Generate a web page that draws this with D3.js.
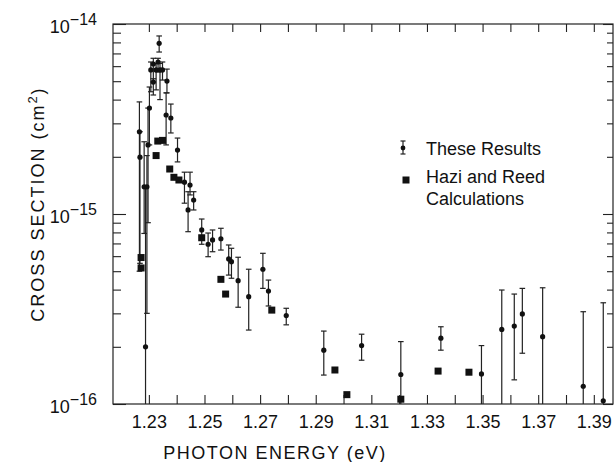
<!DOCTYPE html>
<html><head><meta charset="utf-8">
<script src="https://cdn.jsdelivr.net/npm/d3@7"></script>
<style>
body{margin:0;background:#fff}
text{font-family:"Liberation Sans",Arial,Helvetica,sans-serif;fill:#111}
</style>
</head><body>
<svg id="chart" width="615" height="462"></svg>
<script>
// ---- data (cross section in cm^2, photon energy in eV) ----
const resultEnergy = [1.2266,1.2268,1.2283,1.2288,1.2293,1.2297,1.2302,1.2307,1.2316,1.2316,1.2326,1.2333,1.2337,1.2340,1.2349,1.2365,1.2362,1.2379,1.2403,1.2428,1.2441,1.2448,1.2461,1.2490,1.2513,1.2529,1.2559,1.2587,1.2597,1.2621,1.2659,1.2710,1.2730,1.2794,1.2929,1.3065,1.3206,1.3350,1.3496,1.3569,1.3614,1.3643,1.3716,1.3862,1.3934];
const resultValue  = [27.1e-16,19.9e-16,13.9e-16,2.0e-16,13.9e-16,23.1e-16,36.1e-16,57.3e-16,61.6e-16,49.5e-16,57.3e-16,63.1e-16,79.1e-16,57.3e-16,57.3e-16,50.1e-16,33.2e-16,32.0e-16,21.7e-16,14.7e-16,10.5e-16,14.2e-16,11.85e-16,8.24e-16,6.93e-16,7.30e-16,7.41e-16,5.80e-16,5.61e-16,4.46e-16,3.67e-16,5.12e-16,3.93e-16,2.92e-16,1.92e-16,2.03e-16,1.43e-16,2.22e-16,1.44e-16,2.47e-16,2.57e-16,2.98e-16,2.26e-16,1.24e-16,1.04e-16];
const resultLow    = [5.0e-16,5.5e-16,7.9e-16,0.5e-16,3.0e-16,9.0e-16,23.1e-16,44.0e-16,49.5e-16,42.3e-16,45.0e-16,55.9e-16,71.2e-16,40.0e-16,50.7e-16,43.4e-16,23.1e-16,26.7e-16,18.8e-16,11.4e-16,8.07e-16,12.6e-16,10.5e-16,6.93e-16,5.96e-16,6.33e-16,6.46e-16,4.77e-16,4.59e-16,3.23e-16,2.45e-16,4.06e-16,3.28e-16,2.61e-16,1.42e-16,1.70e-16,0.5e-16,1.92e-16,0.5e-16,0.5e-16,1.34e-16,1.85e-16,0.5e-16,0.5e-16,0.5e-16];
const resultHigh   = [38.9e-16,27.1e-16,24.0e-16,13.9e-16,20.3e-16,36.1e-16,46.6e-16,63.1e-16,66.0e-16,51.5e-16,62.0e-16,66.0e-16,86.5e-16,62.0e-16,63.1e-16,57.9e-16,43.4e-16,37.9e-16,25.1e-16,16.6e-16,13.1e-16,16.6e-16,13.1e-16,9.41e-16,7.94e-16,8.24e-16,8.41e-16,6.87e-16,6.60e-16,5.92e-16,5.12e-16,6.21e-16,4.49e-16,3.19e-16,2.42e-16,2.33e-16,2.13e-16,2.55e-16,2.03e-16,3.98e-16,3.79e-16,4.06e-16,4.09e-16,3.06e-16,3.41e-16];

const calcEnergy = [1.2272,1.2272,1.2326,1.2332,1.2349,1.2375,1.2390,1.2408,1.2490,1.2559,1.2576,1.2742,1.2969,1.3012,1.3206,1.3340,1.3451];
const calcValue  = [5.9e-16,5.2e-16,20.3e-16,24.2e-16,24.4e-16,17.25e-16,15.6e-16,15.1e-16,7.50e-16,4.53e-16,3.79e-16,3.12e-16,1.51e-16,1.12e-16,1.06e-16,1.49e-16,1.47e-16];

const xTickValues = [1.22,1.23,1.24,1.25,1.26,1.27,1.28,1.29,1.30,1.31,1.32,1.33,1.34,1.35,1.36,1.37,1.38,1.39];
const xTickLabels = ["1.23","1.25","1.27","1.29","1.31","1.33","1.35","1.37","1.39"];
const yMajorValues = [1e-16,1e-15,1e-14];
const yMajorExponents = ["\u221216","\u221215","\u221214"];
const yMinorMultipliers = [2,3,4,5,6,7,8,9];
const legendLabels = ["These Results","Hazi and Reed","Calculations"];
const xTitle = "PHOTON ENERGY (eV)";

// ---- layout ----
const L = 113, R = 613, T = 24, B = 404;
const svg = d3.select("#chart");
const x = d3.scaleLinear().domain([1.2171,1.3969]).range([L,R]);
const y = d3.scaleLog().domain([1e-16,1e-14]).range([B,T]);

const yMinorValues = [];
[1e-16,1e-15].forEach(d => yMinorMultipliers.forEach(k => yMinorValues.push(d*k)));

function styleAxis(g){
  g.select(".domain").remove();
  g.selectAll(".tick line").attr("stroke","#222").attr("stroke-width",1.1);
}

// bottom axis
const bottomAxis = svg.append("g").attr("transform",`translate(0,${B})`)
  .call(d3.axisBottom(x).tickValues(xTickValues).tickSizeInner(-9).tickSizeOuter(0).tickPadding(11)
    .tickFormat(d => { const s = d.toFixed(2); return xTickLabels.includes(s) ? s : ""; }));
styleAxis(bottomAxis);
bottomAxis.selectAll(".tick text").attr("font-size",18).attr("fill","#111")
  .style("font-family",'"Liberation Sans",Arial,sans-serif');
bottomAxis.selectAll(".tick").filter(d => d < 1.225).remove();

// top axis
const topAxis = svg.append("g").attr("transform",`translate(0,${T})`)
  .call(d3.axisTop(x).tickValues(xTickValues.filter(d=>d>1.225)).tickSizeInner(-8).tickSizeOuter(0).tickFormat(""));
styleAxis(topAxis);

// left axis
const leftMinor = svg.append("g").attr("transform",`translate(${L},0)`)
  .call(d3.axisLeft(y).tickValues(yMinorValues).tickSizeInner(-8).tickSizeOuter(0).tickFormat(""));
styleAxis(leftMinor);
const leftMajor = svg.append("g").attr("transform",`translate(${L},0)`)
  .call(d3.axisLeft(y).tickValues(yMajorValues).tickSizeInner(-13).tickSizeOuter(0).tickFormat(""));
styleAxis(leftMajor);

// right axis
const rightMinor = svg.append("g").attr("transform",`translate(${R},0)`)
  .call(d3.axisRight(y).tickValues(yMinorValues).tickSizeInner(-6).tickSizeOuter(0).tickFormat(""));
styleAxis(rightMinor);
const rightMajor = svg.append("g").attr("transform",`translate(${R},0)`)
  .call(d3.axisRight(y).tickValues(yMajorValues).tickSizeInner(-10).tickSizeOuter(0).tickFormat(""));
styleAxis(rightMajor);

// frame
svg.append("rect").attr("x",L).attr("y",T).attr("width",R-L).attr("height",B-T)
  .attr("fill","none").attr("stroke","#222").attr("stroke-width",1.2);

// y labels with superscripts
yMajorValues.forEach((v,i) => {
  const t = svg.append("text").attr("x",97).attr("y",y(v)+9).attr("text-anchor","end").attr("font-size",18);
  t.append("tspan").text("10");
  t.append("tspan").attr("dy",-8).attr("font-size",16).text(yMajorExponents[i]);
});

// axis titles
svg.append("text").attr("x",275).attr("y",459).attr("text-anchor","middle")
  .attr("font-size",18).attr("letter-spacing","1.5px").text(xTitle);
const yt = svg.append("text").attr("transform","translate(44,204) rotate(-90)")
  .attr("text-anchor","middle").attr("font-size",18).attr("letter-spacing","2px");
yt.append("tspan").text("CROSS SECTION (cm");
yt.append("tspan").attr("dy",-7).attr("font-size",13).text("2");
yt.append("tspan").attr("dy",7).text(")");

// data
svg.append("clipPath").attr("id","plotclip").append("rect")
  .attr("x",L).attr("y",T-10).attr("width",R-L+2).attr("height",B-T+10);
const plot = svg.append("g").attr("clip-path","url(#plotclip)");
const idx = d3.range(resultEnergy.length);
const cap = 2.8;
plot.selectAll("line.err").data(idx).join("line").attr("class","err")
  .attr("x1",i=>x(resultEnergy[i])).attr("x2",i=>x(resultEnergy[i]))
  .attr("y1",i=>y(resultLow[i])).attr("y2",i=>y(resultHigh[i]))
  .attr("stroke","#222").attr("stroke-width",1.2);
plot.selectAll("line.capH").data(idx).join("line").attr("class","capH")
  .attr("x1",i=>x(resultEnergy[i])-cap).attr("x2",i=>x(resultEnergy[i])+cap)
  .attr("y1",i=>y(resultHigh[i])).attr("y2",i=>y(resultHigh[i]))
  .attr("stroke","#222").attr("stroke-width",1.2);
plot.selectAll("line.capL").data(idx.filter(i=>resultLow[i]>=1e-16)).join("line").attr("class","capL")
  .attr("x1",i=>x(resultEnergy[i])-cap).attr("x2",i=>x(resultEnergy[i])+cap)
  .attr("y1",i=>y(resultLow[i])).attr("y2",i=>y(resultLow[i]))
  .attr("stroke","#222").attr("stroke-width",1.2);
plot.selectAll("circle.pt").data(idx).join("circle").attr("class","pt")
  .attr("cx",i=>x(resultEnergy[i])).attr("cy",i=>y(resultValue[i])).attr("r",2.6).attr("fill","#111");
const sq = 7;
plot.selectAll("rect.calc").data(d3.range(calcEnergy.length)).join("rect").attr("class","calc")
  .attr("x",i=>x(calcEnergy[i])-sq/2).attr("y",i=>y(calcValue[i])-sq/2)
  .attr("width",sq).attr("height",sq).attr("fill","#111");

// legend
const lg = svg.append("g");
lg.append("line").attr("x1",403).attr("x2",403).attr("y1",141).attr("y2",154).attr("stroke","#222").attr("stroke-width",1.2);
lg.append("line").attr("x1",400.5).attr("x2",405.5).attr("y1",141).attr("y2",141).attr("stroke","#222").attr("stroke-width",1.2);
lg.append("line").attr("x1",400.5).attr("x2",405.5).attr("y1",154).attr("y2",154).attr("stroke","#222").attr("stroke-width",1.2);
lg.append("circle").attr("cx",403).attr("cy",148).attr("r",2.4).attr("fill","#111");
lg.append("rect").attr("x",402.5).attr("y",176.5).attr("width",7).attr("height",7).attr("fill","#111");
lg.append("text").attr("x",426).attr("y",155).attr("font-size",18).text(legendLabels[0]);
lg.append("text").attr("x",426).attr("y",183).attr("font-size",18).text(legendLabels[1]);
lg.append("text").attr("x",426).attr("y",205).attr("font-size",18).text(legendLabels[2]);
</script>
</body></html>
